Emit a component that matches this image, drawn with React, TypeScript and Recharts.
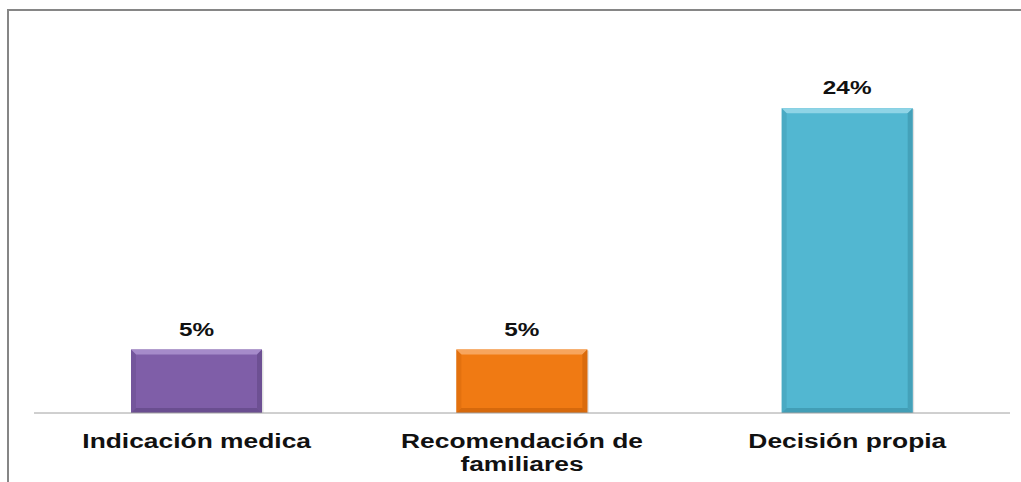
import { Bar, BarChart, Cell, LabelList, XAxis, YAxis } from 'recharts'

const categories = ['Indicación medica', 'Recomendación de\nfamiliares', 'Decisión propia']
const percents = [5, 5, 24]
const yTicks = [0, 30]

const barFill = ['#7F5EA8', '#F07A13', '#52B7D1']
const barLight = ['#A68BCA', '#F7A55E', '#8FD4E6']
const barDark = ['#654A8A', '#D0650B', '#3E97AF']

const data = categories.map((name, i) => ({ name, value: percents[i] }))

const FONT = '"Liberation Sans", Arial, sans-serif'

function BevelBar(props: any) {
  const { x, y, width: w, height: h, index } = props
  if (!h || h <= 0) return null
  const b = 5
  return (
    <g>
      <rect x={x + 1.5} y={y + 1} width={w} height={h - 1} fill="rgba(0,0,0,0.12)" />
      <rect x={x} y={y} width={w} height={h} fill={barFill[index]} />
      <polygon
        points={`${x},${y} ${x + w},${y} ${x + w - b},${y + b} ${x + b},${y + b}`}
        fill={barLight[index]}
      />
      <polygon
        points={`${x + w},${y} ${x + w},${y + h} ${x + w - b},${y + h - b} ${x + w - b},${y + b}`}
        fill={barDark[index]}
        opacity={0.7}
      />
      <polygon
        points={`${x},${y + h} ${x + w},${y + h} ${x + w - b},${y + h - b} ${x + b},${y + h - b}`}
        fill={barDark[index]}
        opacity={0.8}
      />
      <polygon
        points={`${x},${y} ${x + b},${y + b} ${x + b},${y + h - b} ${x},${y + h}`}
        fill={barDark[index]}
        opacity={0.4}
      />
    </g>
  )
}

function CategoryTick({ x, y, payload }: any) {
  const lines = String(payload.value).split('\n')
  return (
    <g transform={`translate(${x},${y}) scale(1.32,1)`}>
      <text textAnchor="middle" fontFamily={FONT} fontWeight="bold" fontSize={20} fill="#111">
        {lines.map((line, i) => (
          <tspan key={i} x={0} y={35.5 + i * 23}>
            {line}
          </tspan>
        ))}
      </text>
    </g>
  )
}

function ValueLabel({ x, y, width, value }: any) {
  return (
    <text
      transform={`translate(${x + width / 2},${y - 14}) scale(1.28,1)`}
      textAnchor="middle"
      fontFamily={FONT}
      fontWeight="bold"
      fontSize={19}
      fill="#111"
    >
      {`${value}%`}
    </text>
  )
}

export default function App() {
  return (
    <div
      style={{
        position: 'absolute',
        left: 7,
        top: 9,
        width: 1012,
        height: 471,
        borderTop: '2px solid #868686',
        borderLeft: '2px solid #868686',
        background: '#fff',
        overflow: 'hidden',
      }}
    >
      <BarChart
        width={1012}
        height={471}
        data={data}
        margin={{ top: 21, right: 11, bottom: 0, left: 25 }}
        barSize={131}
      >
        <XAxis
          dataKey="name"
          height={69}
          tickLine={false}
          tickSize={0}
          tickMargin={0}
          interval={0}
          axisLine={{ stroke: '#A0A0A0', strokeWidth: 1 }}
          tick={<CategoryTick />}
        />
        <YAxis hide domain={[0, 30]} ticks={yTicks} />
        <Bar dataKey="value" isAnimationActive={false} shape={<BevelBar />}>
          {data.map((_, i) => (
            <Cell key={i} fill={barFill[i]} />
          ))}
          <LabelList dataKey="value" content={<ValueLabel />} />
        </Bar>
      </BarChart>
    </div>
  )
}
